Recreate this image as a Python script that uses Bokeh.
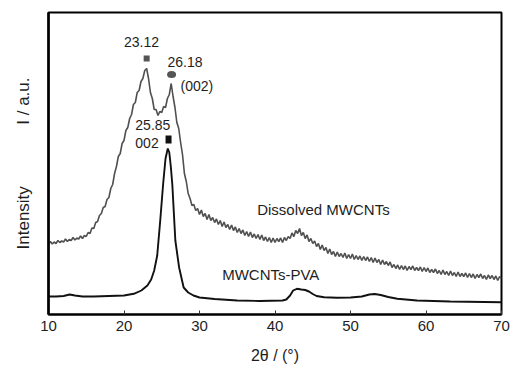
from bokeh.plotting import figure
from bokeh.models import Range1d, Label
from bokeh.embed import file_html
from bokeh.resources import INLINE

# ---- data (2theta in degrees, intensity in a.u.) ----
pva_x = [10.0, 11.0, 12.0, 12.8, 13.5, 14.5, 16.0, 18.0, 20.0, 21.3, 22.3, 23.1,
         23.6, 24.0, 24.4, 24.8, 25.2, 25.5, 25.8, 26.0, 26.2, 26.4, 26.8, 27.3,
         27.9, 28.5, 29.2, 30.0, 32.0, 35.0, 38.0, 41.0, 41.5, 42.0, 42.4, 42.9,
         43.5, 44.0, 44.5, 45.0, 45.5, 46.5, 48.2, 50.0, 51.5, 52.5, 53.2, 54.0,
         55.0, 56.2, 58.8, 63.2, 70.0]
pva_y = [18.0, 18.0, 18.5, 20.0, 19.0, 18.0, 18.0, 18.5, 19.0, 20.7, 24.0, 29.0,
         35.0, 44.0, 59.0, 94.0, 132.0, 156.0, 166.0, 162.0, 148.0, 130.0, 74.0, 47.0,
         27.0, 22.0, 19.0, 17.0, 15.5, 14.0, 13.5, 14.0, 15.0, 19.0, 24.0, 25.7,
         25.0, 24.5, 23.0, 20.5, 18.5, 17.2, 16.7, 17.0, 18.0, 20.0, 20.5, 19.5,
         17.5, 15.7, 14.0, 13.0, 12.3]

dis_x = [10.0, 10.25, 10.5, 10.75, 11.0, 11.25, 11.5, 11.75, 12.0, 12.25, 12.5, 12.75, 13.0, 13.25, 13.5, 13.75, 14.0, 14.25, 14.5, 14.75,
         15.0, 15.25, 15.5, 15.75, 16.0, 16.25, 16.5, 16.75, 17.0, 17.25, 17.5, 17.75, 18.0, 18.25, 18.5, 18.75, 19.0, 19.25, 19.5, 19.75,
         20.0, 20.25, 20.5, 20.75, 21.0, 21.25, 21.5, 21.75, 22.0, 22.25, 22.5, 22.75, 23.0, 23.25, 23.5, 23.75, 24.0, 24.25, 24.5, 24.75,
         25.0, 25.25, 25.5, 25.75, 26.0, 26.25, 26.5, 26.75, 27.0, 27.25, 27.5, 27.75, 28.0, 28.25, 28.5, 28.75, 29.0, 29.25, 29.5, 29.75,
         30.0, 30.25, 30.5, 30.75, 31.0, 31.25, 31.5, 31.75, 32.0, 32.25, 32.5, 32.75, 33.0, 33.25, 33.5, 33.75, 34.0, 34.25, 34.5, 34.75,
         35.0, 35.25, 35.5, 35.75, 36.0, 36.25, 36.5, 36.75, 37.0, 37.25, 37.5, 37.75, 38.0, 38.25, 38.5, 38.75, 39.0, 39.25, 39.5, 39.75,
         40.0, 40.25, 40.5, 40.75, 41.0, 41.25, 41.5, 41.75, 42.0, 42.25, 42.5, 42.75, 43.0, 43.25, 43.5, 43.75, 44.0, 44.25, 44.5, 44.75,
         45.0, 45.25, 45.5, 45.75, 46.0, 46.25, 46.5, 46.75, 47.0, 47.25, 47.5, 47.75, 48.0, 48.25, 48.5, 48.75, 49.0, 49.25, 49.5, 49.75,
         50.0, 50.25, 50.5, 50.75, 51.0, 51.25, 51.5, 51.75, 52.0, 52.25, 52.5, 52.75, 53.0, 53.25, 53.5, 53.75, 54.0, 54.25, 54.5, 54.75,
         55.0, 55.25, 55.5, 55.75, 56.0, 56.25, 56.5, 56.75, 57.0, 57.25, 57.5, 57.75, 58.0, 58.25, 58.5, 58.75, 59.0, 59.25, 59.5, 59.75,
         60.0, 60.25, 60.5, 60.75, 61.0, 61.25, 61.5, 61.75, 62.0, 62.25, 62.5, 62.75, 63.0, 63.25, 63.5, 63.75, 64.0, 64.25, 64.5, 64.75,
         65.0, 65.25, 65.5, 65.75, 66.0, 66.25, 66.5, 66.75, 67.0, 67.25, 67.5, 67.75, 68.0, 68.25, 68.5, 68.75, 69.0, 69.25, 69.5, 69.75,
         70.0]
dis_y = [70, 73, 70.5, 72.5, 71, 74, 72, 73.5, 72.5, 75.5, 73, 75, 74, 77, 74.5, 76.5, 75.5, 78.5, 76, 79,
         78, 82, 81, 86.5, 86, 92, 93, 99, 101, 107, 108, 115, 117, 126, 130, 141, 148, 158, 161, 171,
         174, 184, 187, 196, 200, 210, 212, 222, 224, 233, 236, 244, 246, 236, 222, 216, 205, 205, 199, 203,
         202, 208, 207, 216, 220, 231, 218, 207, 192, 186, 172, 160, 141, 133, 121, 116, 109, 110, 104, 106,
         100, 104.5, 98, 101, 95, 100, 94, 97, 92, 95.5, 90, 94, 88, 92.5, 87, 90, 85, 89.5, 84, 87.5,
         82, 86, 81, 84.5, 79, 83, 78, 82.5, 77, 80.5, 76, 80, 75, 79.5, 74, 77.5, 73, 77, 72, 76.5,
         72, 76, 73, 76.5, 72, 77, 74, 78, 76, 81.5, 78, 84, 81, 86, 79, 82, 76, 79.5, 73, 76,
         71, 73.5, 68, 71, 65, 69.5, 64, 67, 61, 65.5, 60, 63, 58, 62.5, 58, 61, 57, 61.5, 56, 60,
         56, 60.5, 55, 59, 55, 58.5, 54, 58, 54, 57.5, 53, 57, 52, 56.5, 52, 55, 50, 54.5, 50, 53,
         49, 52.5, 47, 50, 46, 49.5, 45, 49, 45, 48.5, 44, 48, 45, 48.5, 44, 47, 44, 47.5, 43, 47,
         43, 46.5, 42, 45, 42, 45.5, 41, 44, 40, 44.5, 40, 43, 39, 43.5, 39, 42, 38, 42.5, 38, 41,
         38, 41.5, 37, 41, 37, 40.5, 36, 40, 37, 40.5, 36, 39, 35, 39.5, 36, 39, 35, 38.5, 34, 38,
         36]

x_ticks = [10, 20, 30, 40, 50, 60, 70]
curve_names = ["Dissolved MWCNTs", "MWCNTs-PVA"]
peak_texts = ["23.12", "26.18", "(002)", "25.85", "002"]

FONT = "Liberation Sans"
TXT = "#1e1e1e"
NB = "\u00a0"

p = figure(width=514, height=371, output_backend="svg", toolbar_location=None,
           x_range=Range1d(10, 70), y_range=Range1d(0, 302),
           min_border_left=48, min_border_right=13, min_border_top=12,
           min_border_bottom=57)
p.grid.visible = False
p.background_fill_color = "white"
p.border_fill_color = "white"
p.outline_line_color = "black"
p.outline_line_width = 2

p.xaxis.ticker = x_ticks
p.xaxis.major_tick_in = 4
p.xaxis.major_tick_out = 0
p.xaxis.major_tick_line_color = "#333333"
p.xaxis.minor_tick_line_color = None
p.xaxis.axis_line_width = 2
p.xaxis.major_label_text_font = FONT
p.xaxis.major_label_text_font_size = "15px"
p.xaxis.major_label_text_color = TXT
p.xaxis.major_label_standoff = 6
p.xaxis.axis_label = "2θ / (°)"
p.xaxis.axis_label_text_font = FONT
p.xaxis.axis_label_text_font_size = "16px"
p.xaxis.axis_label_text_font_style = "normal"
p.xaxis.axis_label_text_color = TXT
p.xaxis.axis_label_standoff = 13

p.yaxis.ticker = []
p.yaxis.major_tick_line_color = None
p.yaxis.minor_tick_line_color = None
p.yaxis.major_label_text_font_size = "0px"
p.yaxis.axis_line_width = 2.5
p.yaxis.axis_label = "Intensity" + NB * 13 + "I / a.u."
p.yaxis.axis_label_text_font = FONT
p.yaxis.axis_label_text_font_size = "17px"
p.yaxis.axis_label_text_font_style = "normal"
p.yaxis.axis_label_text_color = TXT
p.yaxis.axis_label_standoff = 16

# curves
p.line(dis_x, dis_y, line_color="#505050", line_width=1.6)
p.line(pva_x, pva_y, line_color="#111111", line_width=1.9)

# peak markers
p.scatter([23.0], [256], marker="square", size=6, fill_color="#555555", line_color=None)
p.ellipse([26.3], [240], width=9, height=7, width_units="screen", height_units="screen",
          fill_color="#555555", line_color=None)
p.rect([25.9], [175], width=6, height=8, width_units="screen", height_units="screen",
       fill_color="#111111", line_color=None)

def lab(x, y, text, align="left", size="15px"):
    p.add_layout(Label(x=x, y=y, text=text, text_font=FONT, text_font_size=size,
                       text_color=TXT, text_align=align, text_baseline="middle"))

lab(22.32, 273, peak_texts[0], align="center", size="14px")
lab(25.76, 253, peak_texts[1], size="14px")
lab(27.48, 229, peak_texts[2], size="14px")
lab(21.5, 190, peak_texts[3], size="14px")
lab(21.5, 172, peak_texts[4], size="14px")

lab(37.64, 105, curve_names[0])
lab(33.0, 40, curve_names[1])

open("out.html", "w").write(file_html(p, INLINE))
